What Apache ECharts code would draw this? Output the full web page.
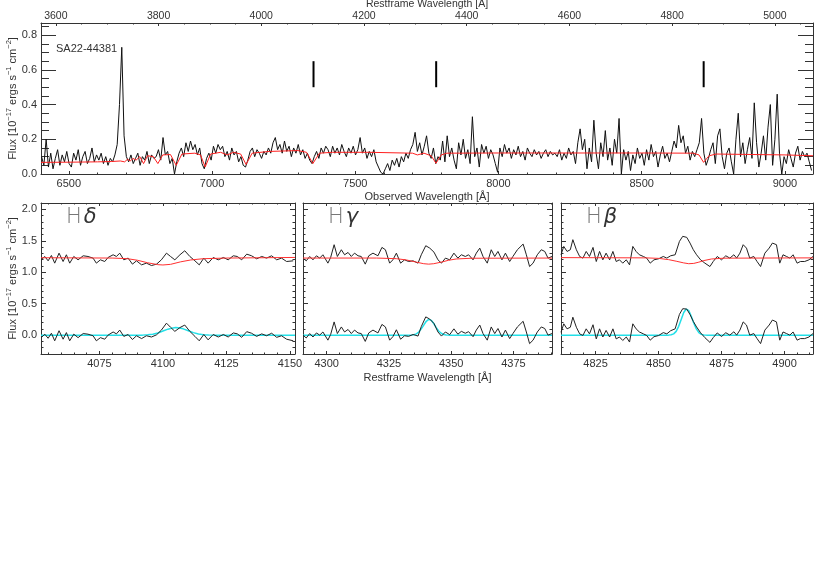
<!DOCTYPE html>
<html><head><meta charset="utf-8">
<script src="https://cdn.jsdelivr.net/npm/echarts@6/dist/echarts.min.js"></script>
<style>html,body{margin:0;padding:0;background:#fff}#c{width:830px;height:581px}</style>
</head><body><div id="c"></div>
<script>
// ---------------- DATA ----------------
const onePlusZ = 1.793;
const objectName = 'SA22-44381';
const topObsRange = [6403, 9098];
const topYRange = [0, 0.87];
const topObsStart = 6405, topObsStep = 8;
const topFlux = [
0.10,0.05,0.20,0.04,0.12,0.03,0.09,0.14,0.05,0.11,0.07,0.13,0.06,0.04,0.12,0.08,0.14,0.05,0.10,0.13,0.06,0.09,0.15,0.07,0.11,
0.08,0.12,0.06,0.10,0.05,0.09,0.07,0.11,0.17,0.40,0.73,0.22,0.10,0.07,0.11,0.06,0.09,0.12,0.05,0.10,0.08,0.13,0.06,0.11,0.09,
0.10,0.14,0.08,0.21,0.11,0.13,0.06,0.09,0.00,0.07,0.12,0.15,0.10,0.18,0.13,0.19,0.14,0.17,0.11,0.15,0.06,0.03,0.09,0.12,0.08,
0.16,0.12,0.17,0.14,0.16,0.10,0.13,0.08,0.15,0.11,0.13,0.07,0.10,0.05,0.04,0.08,0.13,0.15,0.10,0.14,0.12,0.09,0.13,0.11,0.15,
0.12,0.18,0.21,0.14,0.17,0.12,0.19,0.13,0.16,0.10,0.15,0.12,0.17,0.11,0.14,0.09,0.12,0.08,0.06,0.10,0.13,0.09,0.15,0.12,0.16,
0.14,0.10,0.16,0.12,0.15,0.11,0.17,0.13,0.10,0.15,0.12,0.16,0.11,0.14,0.21,0.12,0.15,0.09,0.13,0.10,0.14,0.07,0.04,0.01,0.00,
0.03,0.06,0.02,0.08,0.05,0.09,0.04,0.10,0.07,0.12,0.09,0.14,0.17,0.24,0.13,0.18,0.11,0.16,0.22,0.12,0.09,0.15,0.06,0.10,0.08,
0.19,0.07,0.22,0.10,0.15,0.08,0.03,0.18,0.11,0.20,0.09,0.14,0.06,0.33,0.10,0.15,0.04,0.17,0.12,0.16,0.09,0.14,0.11,0.06,0.01,
0.15,0.10,0.17,0.12,0.15,0.09,0.14,0.11,0.16,0.10,0.13,0.08,0.15,0.12,0.10,0.14,0.11,0.13,0.09,0.12,0.14,0.10,0.13,0.11,0.12,
0.10,0.14,0.08,0.12,0.09,0.15,0.11,0.13,0.06,0.18,0.26,0.14,0.20,0.03,0.15,0.07,0.31,0.12,0.03,0.18,0.10,0.25,0.08,0.15,0.05,
0.20,0.12,0.32,0.00,0.14,0.08,0.13,0.02,0.11,0.06,0.15,0.09,0.12,0.05,0.14,0.08,0.17,0.10,0.13,0.04,0.11,0.16,0.09,0.12,0.07,
0.13,0.19,0.15,0.28,0.18,0.22,0.12,0.16,0.08,0.13,0.10,0.14,0.18,0.32,0.12,0.05,0.09,0.14,0.18,0.06,0.22,0.26,0.10,0.03,0.12,
0.15,0.07,0.00,0.20,0.35,0.10,0.18,0.06,0.14,0.21,0.09,0.41,0.18,0.04,0.12,0.22,0.08,0.27,0.40,0.05,0.20,0.46,0.12,0.00,0.10,
0.06,0.14,0.09,0.04,0.12,0.16,0.08,0.13,0.10,0.12,0.07,0.02
];
const topModel = [[6403,0.067],[6500,0.068],[6600,0.07],[6650,0.072],[6680,0.075],[6695,0.07],[6705,0.085],[6715,0.075],[6724,0.09],[6735,0.08],[6748,0.1],[6761,0.06],[6775,0.105],[6795,0.1],[6811,0.06],[6828,0.11],[6855,0.112],[6875,0.05],[6895,0.115],[6940,0.12],[6960,0.11],[6976,0.04],[6995,0.115],[7030,0.125],[7053,0.11],[7075,0.125],[7100,0.115],[7119,0.055],[7140,0.12],[7200,0.13],[7300,0.135],[7330,0.125],[7352,0.06],[7375,0.12],[7420,0.125],[7550,0.125],[7700,0.12],[7717,0.11],[7740,0.12],[7765,0.105],[7782,0.062],[7800,0.11],[7820,0.12],[8000,0.121],[8500,0.121],[8680,0.12],[8700,0.11],[8716,0.067],[8735,0.105],[8760,0.115],[9000,0.11],[9098,0.105]];
const markerRest = [4101.7, 4340.5, 4861.3];
const markerRange = [0.5, 0.65];
const topObsTicks = [6500,7000,7500,8000,8500,9000];
const topRestTicks = [3600,3800,4000,4200,4400,4600,4800,5000];
const topYTicks = [0.0,0.2,0.4,0.6,0.8];
const panelYRange = [-0.3, 2.1];
const panelYTicks = [0.0,0.5,1.0,1.5,2.0];
const panelGreek = ['δ','γ','β'];
const panelXRanges = [[4052,4152],[4290.5,4390.5],[4811.3,4911.3]];
const panelXTicks = [[4075,4100,4125,4150],[4300,4325,4350,4375],[4825,4850,4875,4900]];

const hdSpec = [[4052.1,1.197],[4053.5,1.250],[4054.8,1.181],[4056.1,1.266],[4057.4,1.144],[4059.1,1.303],[4060.7,1.170],[4062.0,1.277],[4063.3,1.144],[4064.9,1.250],[4066.6,1.197],[4068.6,1.261],[4070.5,1.250],[4072.5,1.224],[4073.8,1.144],[4075.4,1.197],[4077.1,1.170],[4078.4,1.234],[4080.4,1.277],[4081.7,1.250],[4083.0,1.303],[4084.6,1.197],[4086.3,1.224],[4088.0,1.128],[4089.6,1.181],[4091.6,1.117],[4093.5,1.144],[4095.5,1.106],[4097.5,1.128],[4099.4,1.197],[4101.4,1.303],[4103.0,1.250],[4104.7,1.197],[4106.7,1.277],[4108.6,1.341],[4110.6,1.250],[4112.6,1.181],[4114.3,1.117],[4116.1,1.224],[4117.8,1.144],[4119.8,1.234],[4121.8,1.197],[4123.8,1.234],[4125.7,1.197],[4127.7,1.261],[4129.3,1.250],[4131.0,1.197],[4133.0,1.287],[4134.9,1.261],[4136.9,1.213],[4138.9,1.250],[4140.8,1.224],[4142.8,1.261],[4144.8,1.197],[4146.7,1.224],[4148.7,1.170],[4151.3,1.181]];
const hdModel = [[4052,1.23],[4080,1.225],[4086,1.215],[4090,1.19],[4094,1.15],[4098,1.12],[4100,1.115],[4103,1.125],[4107,1.165],[4111,1.195],[4116,1.215],[4125,1.225],[4140,1.23],[4152,1.235]];
const hdResid = [[4052.1,-0.04],[4053.5,0.015],[4054.8,-0.05],[4056.1,0.03],[4057.4,-0.09],[4059.1,0.07],[4060.7,-0.065],[4062.0,0.04],[4063.3,-0.09],[4064.9,0.015],[4066.6,-0.04],[4068.6,0.025],[4070.5,0.015],[4072.5,-0.01],[4073.8,-0.09],[4075.4,-0.04],[4077.1,-0.065],[4078.4,0.0],[4080.4,0.05],[4081.7,0.02],[4083.0,0.08],[4084.6,-0.02],[4086.3,0.01],[4088.0,-0.07],[4089.6,-0.01],[4091.6,-0.055],[4093.5,-0.01],[4095.5,-0.03],[4097.5,0.005],[4099.4,0.08],[4101.4,0.19],[4103.0,0.125],[4104.7,0.06],[4106.7,0.12],[4108.6,0.16],[4110.6,0.06],[4112.6,-0.02],[4114.3,-0.09],[4116.1,0.01],[4117.8,-0.075],[4119.8,0.01],[4121.8,-0.03],[4123.8,0.01],[4125.7,-0.03],[4127.7,0.035],[4129.3,0.02],[4131.0,-0.035],[4133.0,0.055],[4134.9,0.03],[4136.9,-0.02],[4138.9,0.02],[4140.8,-0.01],[4142.8,0.03],[4144.8,-0.035],[4146.7,-0.01],[4148.7,-0.065],[4151.3,-0.09]];
const hdFit = [[4052,0],[4092,0],[4094,0.005],[4096,0.015],[4098,0.035],[4100,0.065],[4102,0.095],[4104,0.115],[4105,0.12],[4106,0.118],[4108,0.10],[4110,0.07],[4112,0.04],[4114,0.018],[4116,0.006],[4118,0.001],[4120,0],[4152,0]];

const hgSpec = [[4290.5,1.224],[4291.8,1.181],[4293.2,1.250],[4294.5,1.197],[4295.9,1.261],[4297.2,1.224],[4298.5,1.277],[4300.5,1.144],[4301.6,1.234],[4303.0,1.437],[4304.3,1.250],[4305.9,1.357],[4307.2,1.277],[4308.6,1.314],[4309.9,1.250],[4311.2,1.303],[4312.6,1.261],[4313.9,1.250],[4315.5,1.128],[4316.9,1.261],[4318.6,1.303],[4320.6,1.261],[4322.2,1.394],[4323.6,1.357],[4325.3,1.144],[4326.6,1.197],[4328.0,1.303],[4329.7,1.144],[4331.3,1.197],[4332.9,1.170],[4334.7,1.181],[4336.7,1.144],[4338.0,1.277],[4339.8,1.421],[4341.4,1.383],[4343.1,1.319],[4344.7,1.197],[4346.1,1.144],[4347.7,1.224],[4349.4,1.197],[4351.1,1.303],[4352.7,1.224],[4354.1,1.277],[4355.7,1.250],[4357.0,1.277],[4358.8,1.197],[4360.1,1.303],[4361.5,1.383],[4362.8,1.250],[4364.5,1.144],[4366.1,1.357],[4367.5,1.250],[4368.8,1.330],[4370.4,1.197],[4371.8,1.303],[4373.5,1.170],[4374.8,1.250],[4376.6,1.357],[4378.9,1.447],[4380.2,1.277],[4381.5,1.090],[4382.9,1.144],[4384.6,1.277],[4386.2,1.357],[4387.6,1.330],[4388.9,1.224],[4390.5,1.250]];
const hgModel = [[4290.5,1.225],[4320,1.225],[4328,1.215],[4332,1.195],[4336,1.16],[4339,1.135],[4341,1.128],[4343,1.135],[4346,1.16],[4349,1.19],[4352,1.21],[4358,1.222],[4390.5,1.225]];
const hgResid = [[4290.5,0.0],[4291.8,-0.045],[4293.2,0.025],[4294.5,-0.03],[4295.9,0.035],[4297.2,0.0],[4298.5,0.05],[4300.5,-0.08],[4301.6,0.01],[4303.0,0.21],[4304.3,0.025],[4305.9,0.13],[4307.2,0.05],[4308.6,0.09],[4309.9,0.025],[4311.2,0.08],[4312.6,0.035],[4313.9,0.025],[4315.5,-0.1],[4316.9,0.035],[4318.6,0.08],[4320.6,0.035],[4322.2,0.17],[4323.6,0.13],[4325.3,-0.08],[4326.6,-0.025],[4328.0,0.085],[4329.7,-0.065],[4331.3,-0.01],[4332.9,-0.02],[4334.7,0.01],[4336.7,-0.015],[4338.0,0.135],[4339.8,0.29],[4341.4,0.255],[4343.1,0.185],[4344.7,0.05],[4346.1,-0.015],[4347.7,0.05],[4349.4,0.007],[4351.1,0.1],[4352.7,0.015],[4354.1,0.06],[4355.7,0.03],[4357.0,0.055],[4358.8,-0.025],[4360.1,0.08],[4361.5,0.16],[4362.8,0.025],[4364.5,-0.08],[4366.1,0.13],[4367.5,0.025],[4368.8,0.105],[4370.4,-0.03],[4371.8,0.08],[4373.5,-0.055],[4374.8,0.025],[4376.6,0.13],[4378.9,0.22],[4380.2,0.05],[4381.5,-0.135],[4382.9,-0.08],[4384.6,0.05],[4386.2,0.13],[4387.6,0.105],[4388.9,0.0],[4390.5,0.025]];
const hgFit = [[4290.5,0],[4334,0],[4335,0.005],[4336,0.02],[4337,0.05],[4338,0.10],[4339,0.16],[4340,0.22],[4341,0.25],[4342,0.235],[4343,0.185],[4344,0.12],[4345,0.065],[4346,0.03],[4347,0.01],[4348,0.003],[4349,0],[4390.5,0]];

const hbSpec = [[4811.3,1.277],[4812.4,1.410],[4813.7,1.330],[4815.0,1.357],[4816.0,1.517],[4817.4,1.357],[4818.7,1.250],[4820.0,1.224],[4821.3,1.330],[4822.6,1.250],[4824.0,1.394],[4825.3,1.170],[4826.6,1.330],[4827.9,1.197],[4829.2,1.303],[4830.6,1.197],[4831.9,1.330],[4833.2,1.170],[4834.5,1.197],[4835.8,1.144],[4837.2,1.197],[4838.5,1.117],[4839.8,1.410],[4841.1,1.330],[4842.4,1.277],[4844.0,1.250],[4845.3,1.224],[4846.7,1.144],[4848.2,1.197],[4850.0,1.213],[4851.9,1.250],[4853.3,1.224],[4854.8,1.261],[4856.6,1.277],[4858.3,1.490],[4859.6,1.570],[4861.2,1.554],[4862.5,1.463],[4863.8,1.357],[4865.1,1.277],[4866.7,1.197],[4868.4,1.144],[4870.4,1.090],[4871.7,1.170],[4873.3,1.250],[4875.0,1.197],[4876.7,1.261],[4878.3,1.224],[4879.9,1.277],[4881.0,1.224],[4882.3,1.303],[4883.6,1.437],[4884.9,1.383],[4886.2,1.224],[4887.8,1.250],[4889.1,1.170],[4890.5,1.090],[4892.2,1.303],[4893.9,1.383],[4895.2,1.463],[4896.8,1.437],[4898.1,1.144],[4899.4,1.277],[4900.8,1.250],[4902.1,1.224],[4903.4,1.277],[4905.0,1.144],[4906.3,1.170],[4908.0,1.170],[4909.7,1.197],[4911.3,1.250]];
const hbModel = [[4811.3,1.232],[4845,1.228],[4850,1.22],[4854,1.2],[4857,1.175],[4860,1.148],[4862,1.135],[4864,1.14],[4866,1.16],[4868,1.185],[4871,1.21],[4876,1.223],[4911.3,1.228]];
const hbResid = [[4811.3,0.045],[4812.4,0.18],[4813.7,0.1],[4815.0,0.125],[4816.0,0.285],[4817.4,0.125],[4818.7,0.02],[4820.0,-0.005],[4821.3,0.1],[4822.6,0.02],[4824.0,0.165],[4825.3,-0.06],[4826.6,0.1],[4827.9,-0.03],[4829.2,0.075],[4830.6,-0.03],[4831.9,0.1],[4833.2,-0.06],[4834.5,-0.03],[4835.8,-0.085],[4837.2,-0.03],[4838.5,-0.11],[4839.8,0.18],[4841.1,0.1],[4842.4,0.05],[4844.0,0.02],[4845.3,-0.005],[4846.7,-0.08],[4848.2,-0.025],[4850.0,-0.007],[4851.9,0.04],[4853.3,0.02],[4854.8,0.07],[4856.6,0.1],[4858.3,0.33],[4859.6,0.42],[4861.2,0.414],[4862.5,0.327],[4863.8,0.218],[4865.1,0.13],[4866.7,0.037],[4868.4,-0.04],[4870.4,-0.115],[4871.7,-0.04],[4873.3,0.035],[4875.0,-0.022],[4876.7,0.038],[4878.3,0.0],[4879.9,0.053],[4881.0,0.0],[4882.3,0.08],[4883.6,0.21],[4884.9,0.16],[4886.2,0.0],[4887.8,0.025],[4889.1,-0.055],[4890.5,-0.135],[4892.2,0.08],[4893.9,0.16],[4895.2,0.24],[4896.8,0.21],[4898.1,-0.08],[4899.4,0.05],[4900.8,0.025],[4902.1,0.0],[4903.4,0.05],[4905.0,-0.08],[4906.3,-0.055],[4908.0,-0.055],[4909.7,-0.03],[4911.3,0.025]];
const hbFit = [[4811.3,0],[4854,0],[4855,0.005],[4856,0.02],[4857,0.06],[4858,0.14],[4859,0.25],[4860,0.36],[4861,0.415],[4862,0.39],[4863,0.3],[4864,0.19],[4865,0.1],[4866,0.04],[4867,0.012],[4868,0.003],[4869,0],[4911.3,0]];

const panelSpec = [hdSpec, hgSpec, hbSpec];
const panelModel = [hdModel, hgModel, hbModel];
const panelResid = [hdResid, hgResid, hbResid];
const panelFit = [hdFit, hgFit, hbFit];

// ---------------- LAYOUT / STYLE ----------------
const FONT = 'Liberation Sans';
const TXT = '#333';
const AX = '#333';
const gridBase = {containLabel:false, outerBoundsMode:'none'};
const grids = [
  Object.assign({left:41, top:23, width:772, height:151}, gridBase),
  Object.assign({left:41, top:203, width:254, height:151}, gridBase),
  Object.assign({left:303, top:203, width:249, height:151}, gridBase),
  Object.assign({left:561, top:203, width:252, height:151}, gridBase)
];
function steps(a,b,s){const r=[];for(let k=0;;k++){const v=Math.round((a+k*s)*10000)/10000;if(v>b+1e-9)break;r.push(v);}return r;}
function minors(a,b,s,majors){return steps(a,b,s).filter(v=>!majors.some(m=>Math.abs(m-v)<1e-6));}
const xAxes=[], yAxes=[];
const yName = '{n|Flux [10}{s|−17}{n| ergs s}{s|−1}{n| cm}{s|−2}{n|]}';
const richName = {n:{fontFamily:FONT,fontSize:11,color:TXT,lineHeight:13,verticalAlign:'bottom'},s:{fontFamily:FONT,fontSize:7.5,color:TXT,verticalAlign:'top'}};
function addPair(list, grid, pos, min, max, majors, mins, majLen, minLen, labels, fmt, extra){
  const main = Object.assign({
    type:'value', gridIndex:grid, position:pos, min:min, max:max, nameMoveOverlap:false,
    axisLine:{show:true,onZero:false,lineStyle:{color:AX,width:1}},
    axisTick:{show:true,inside:true,length:majLen,customValues:majors,lineStyle:{color:AX,width:1}},
    axisLabel: labels ? {show:true,customValues:majors,formatter:fmt,fontFamily:FONT,fontSize:11,color:TXT,margin:4} : {show:false},
    splitLine:{show:false}
  }, extra||{});
  list.push(main); const idx=list.length-1;
  list.push({type:'value', gridIndex:grid, position:pos, min:min, max:max,
    axisLine:{show:false,onZero:false},
    axisTick:{show:true,inside:true,length:minLen,customValues:mins,lineStyle:{color:AX,width:1}},
    axisLabel:{show:false}, splitLine:{show:false}});
  return idx;
}
const f1 = v=>v.toFixed(1), f0 = v=>String(Math.round(v));
// top panel
const restMin = topObsRange[0]/onePlusZ, restMax = topObsRange[1]/onePlusZ;
const obsX = addPair(xAxes,0,'bottom',topObsRange[0],topObsRange[1],topObsTicks,minors(6500,9000,100,topObsTicks),3,1.5,true,f0,
  {name:'Observed Wavelength [Å]',nameLocation:'middle',nameGap:17,nameTextStyle:{fontFamily:FONT,fontSize:11,color:TXT}});
const restX = addPair(xAxes,0,'top',restMin,restMax,topRestTicks,minors(3600,5050,50,topRestTicks),3,1.5,true,f0,
  {name:'Restframe Wavelength [Å]',nameLocation:'middle',nameGap:13,nameTextStyle:{fontFamily:FONT,fontSize:10.5,color:TXT}});
xAxes[restX].axisLabel.margin = 1;
xAxes[restX].axisLabel.fontSize = 10.5;
const topY = addPair(yAxes,0,'left',topYRange[0],topYRange[1],topYTicks,minors(0,0.85,0.05,topYTicks),15,8,true,f1,
  {name:yName,nameLocation:'middle',nameGap:23,nameRotate:90,nameTextStyle:{rich:richName}});
addPair(yAxes,0,'right',topYRange[0],topYRange[1],topYTicks,minors(0,0.85,0.05,topYTicks),15,8,false);
// lower panels
const pX=[], pY=[];
for(let p=0;p<3;p++){
  const g=p+1, xr=panelXRanges[p];
  const xm = minors(Math.ceil(xr[0]/5)*5, xr[1], 5, panelXTicks[p]);
  const extraX = p===1 ? {name:'Restframe Wavelength [Å]',nameLocation:'middle',nameGap:18,nameTextStyle:{fontFamily:FONT,fontSize:11,color:TXT}} : {};
  pX.push(addPair(xAxes,g,'bottom',xr[0],xr[1],panelXTicks[p],xm,3,1.5,true,f0,extraX));
  addPair(xAxes,g,'top',xr[0],xr[1],panelXTicks[p],xm,3,1.5,false);
  const ym = minors(-0.2,2.1,0.1,panelYTicks);
  const extraY = p===0 ? {name:yName,nameLocation:'middle',nameGap:23,nameRotate:90,nameTextStyle:{rich:richName}} : {};
  pY.push(addPair(yAxes,g,'left',panelYRange[0],panelYRange[1],panelYTicks,ym,5,2.5,p===0,f1,extraY));
  addPair(yAxes,g,'right',panelYRange[0],panelYRange[1],panelYTicks,ym,5,2.5,false);
}
// series
const series=[];
function line(xi,yi,data,color,width,z){return {type:'line',xAxisIndex:xi,yAxisIndex:yi,data:data,symbol:'none',showSymbol:false,silent:true,animation:false,lineStyle:{color:color,width:width},z:z||2};}
series.push(line(obsX,topY,topFlux.map((v,i)=>[topObsStart+i*topObsStep,v]),'#111',1,2));
series.push(line(obsX,topY,topModel,'#ff2020',1,3));
markerRest.forEach(r=>series.push(line(restX,topY,[[r,markerRange[0]],[r,markerRange[1]]],'#000',2,4)));
for(let p=0;p<3;p++){
  series.push(line(pX[p],pY[p],panelSpec[p],'#222',1,2));
  series.push(line(pX[p],pY[p],panelModel[p],'#ff3030',1,3));
  series.push(line(pX[p],pY[p],panelFit[p],'#22e0e8',1.5,3));
  series.push(line(pX[p],pY[p],panelResid[p],'#222',1,4));
}
// text labels
const hLeft=[66,328,586];
const graphic=[{type:'text',left:56,top:43,style:{text:objectName,font:'11px "Liberation Sans"',fill:TXT}}];
for(let p=0;p<3;p++){
  graphic.push({type:'text',left:hLeft[p],top:207,style:{text:'{h|H}{g|'+panelGreek[p]+'}',rich:{h:{fontFamily:'DejaVu Sans',fontWeight:200,fontSize:21,fill:'#777'},g:{fontFamily:'DejaVu Sans',fontStyle:'italic',fontSize:21,fill:'#333',padding:[0,0,0,2]}}}});
}
const chart = echarts.init(document.getElementById('c'),null,{renderer:'canvas'});
chart.setOption({backgroundColor:'#fff',animation:false,grid:grids,xAxis:xAxes,yAxis:yAxes,series:series,graphic:graphic});
</script></body></html>
